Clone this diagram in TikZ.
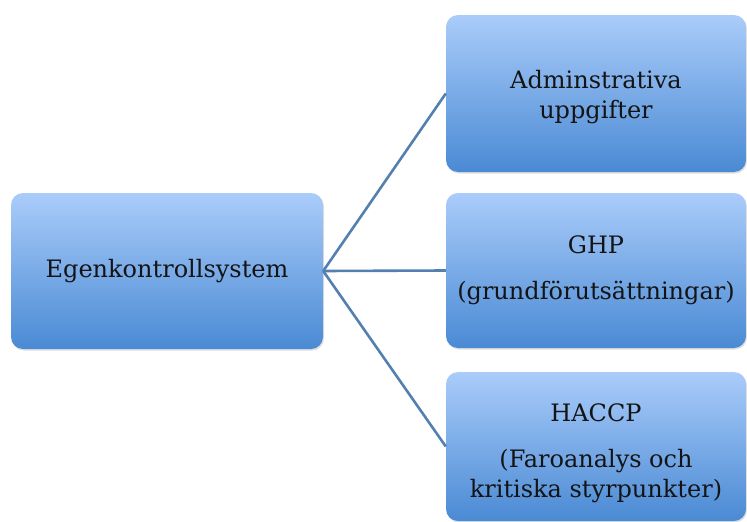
\documentclass[tikz,border=0pt]{standalone}
\usepackage{fontspec}
\setmainfont{DejaVu Serif}
\usetikzlibrary{shadows}
\definecolor{boxtop}{RGB}{170,204,250}
\definecolor{boxbot}{RGB}{74,138,212}
\definecolor{linkcol}{RGB}{84,128,176}
\begin{document}
\begin{tikzpicture}[x=1pt,y=-1pt,
  boxnode/.style={rounded corners=12pt, top color=boxtop, bottom color=boxbot,
    draw=none, align=center, inner sep=0pt, minimum width=300pt,
    font=\fontsize{24}{29.5}\selectfont, text=black!92,
    drop shadow={opacity=0.25, shadow xshift=1pt, shadow yshift=-1.5pt}},
  boxtext/.style={align=center, inner sep=0pt, font=\fontsize{24}{29.5}\selectfont, text=black!92},
  link/.style={draw=linkcol, line width=2.6pt}]
\useasboundingbox (0,0) rectangle (747,522);
\node[boxnode, minimum width=312pt, minimum height=156pt] (root) at (167,271) {Egenkontrollsystem};
\node[boxnode, minimum height=157pt] (adm) at (596,93.5) {};
\node[boxtext] (admtext) at (596,97) {Adminstrativa\\uppgifter};
\node[boxnode, minimum height=155pt] (ghp) at (596,270.5) {GHP\\[17pt](grundförutsättningar)};
\node[boxnode, minimum height=149pt] (haccp) at (596,446.5) {};
\node[boxtext] (haccptext) at (596,453) {HACCP\\[17pt](Faroanalys och\\kritiska styrpunkter)};
\draw[link] (root.east) -- (adm.west);
\draw[link] (root.east) -- (ghp.west);
\draw[link] (root.east) -- (haccp.west);
\end{tikzpicture}
\end{document}
